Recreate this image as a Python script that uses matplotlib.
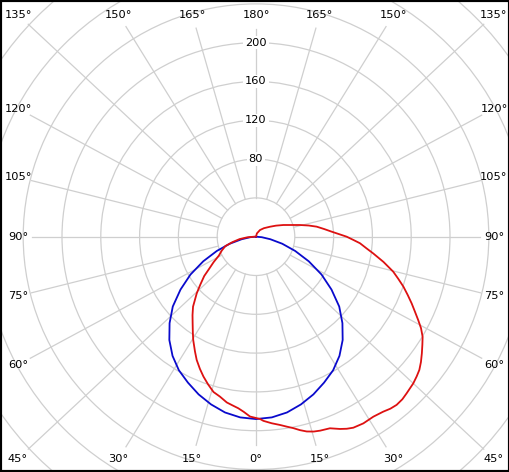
import numpy as np
import matplotlib
matplotlib.use('Agg')
import matplotlib.pyplot as plt
from matplotlib.patches import Circle

# C0-C180 plane (blue), symmetric, gamma from nadir
blue_gamma = [0, 5, 10, 15, 20, 25, 30, 35, 40, 45, 50, 55, 60, 65, 70, 75, 80, 85, 90]
blue_cd = [188, 187, 184, 179, 173, 166, 159, 150, 139, 126, 112, 95, 78, 60, 43, 28, 15, 6, 0]

# C90-C270 plane (red), signed gamma: negative = left side
red_gamma = [-90, -86, -81.8, -77, -73, -68, -63, -59, -55.8, -52.8, -49.2, -46.3, -42, -39,
             -36.2, -33.5, -31.3, -28, -25.7, -23, -20.6, -18, -15.3, -12.7, -10, -8, -5.9,
             -4, -1.9, 1.3, 2.3, 4.8, 7.3, 9.3, 11, 12.8, 14.6, 16.5, 18.3, 21.1, 23.6, 25.3,
             27, 29.9, 33.1, 36, 38, 39.9, 42, 43.9, 47, 49, 50.8, 52.8, 54.9, 57, 59, 61,
             62.8, 64.8, 66.8, 69, 71.3, 73.5, 75.7, 78.8, 81.9, 84, 86.4, 88.1, 90, 93.8,
             96.5, 99.4, 102, 104.9, 108.5, 113.2, 119, 125.5, 137, 149.2, 165, 180]
red_cd = [2, 9, 17, 25, 33, 38, 43, 51, 58, 67, 76, 84.5, 97, 104,
          110.6, 118, 124.6, 134, 141, 148, 154, 160, 166, 169, 173.5, 175.5, 177.8,
          181, 185.5, 188, 190, 193, 195.7, 198.5, 201, 204.5, 207.5, 209.5, 210.6, 211.7, 216.3, 219,
          221, 222, 221.5, 223, 225, 226, 225.5, 224, 221.7, 219.5, 217.3, 213.5, 209, 204.5, 200.4, 194.5,
          188, 181, 174.6, 167.5, 160.4, 153, 146, 134, 122, 114.5, 107.4, 100.4, 93.5, 78.2,
          70.5, 63.4, 55.5, 46.9, 38, 30.6, 23.5, 17.7, 12, 8, 3.5, 0]

ring_values = [40, 80, 120, 160, 200, 240, 280, 320, 360]
ring_labels = [80, 120, 160, 200]
angle_ticks = [0, 15, 30, 45, 60, 75, 90, 105, 120, 135, 150, 165, 180]

PX = 0.97            # pixels per cd unit
CX, CY = 256, 236.7  # centre in pixels
W, H = 510, 472
XR, YR = 238 / PX, 222 / PX   # label frame half sizes

fig = plt.figure(figsize=(W / 100, H / 100), dpi=100)
ax = fig.add_axes([0, 0, 1, 1])
ax.set_xlim(-CX / PX, (W - CX) / PX)
ax.set_ylim(-(H - CY) / PX, CY / PX)
ax.set_xticks([])
ax.set_yticks([])
for sp in ax.spines.values():
    sp.set_linewidth(3.0)
    sp.set_color('black')

grid_c = '#cfcfcf'
for r in ring_values:
    ax.add_patch(Circle((0, 0), r, fill=False, ec=grid_c, lw=0.9, zorder=1))

# radial lines and angle labels
for a in angle_ticks:
    sides = [1] if a in (0, 180) else [1, -1]
    for side in sides:
        t = np.radians(a)
        s, c = side * np.sin(t), -np.cos(t)
        m = max(abs(s), abs(c))
        lx, ly = s / m * XR, c / m * YR
        d = np.hypot(lx, ly)
        ux, uy = lx / d, ly / d
        r0, r1 = 40, d - 14 / PX
        ax.plot([ux * r0, ux * r1], [uy * r0, uy * r1], color=grid_c, lw=0.9, zorder=1)
        ax.text(lx, ly, f'{a}°', ha='center', va='center', fontsize=8.2, color='black', zorder=4)

for v in ring_labels:
    ax.text(0, v, str(v), ha='center', va='center', fontsize=8.2, color='black', zorder=3,
            bbox=dict(fc='white', ec='none', pad=1.2))

bg = np.radians(np.concatenate([-np.array(blue_gamma[::-1]), np.array(blue_gamma[1:])]))
bv = np.concatenate([np.array(blue_cd[::-1]), np.array(blue_cd[1:])])
ax.plot(bv * np.sin(bg), -bv * np.cos(bg), color='#0a0acc', lw=1.3, zorder=5)

rg = np.radians(red_gamma)
rv = np.array(red_cd)
ax.plot(rv * np.sin(rg), -rv * np.cos(rg), color='#dd1111', lw=1.3, zorder=6)

fig.savefig('out.png', dpi=100, facecolor='white')
